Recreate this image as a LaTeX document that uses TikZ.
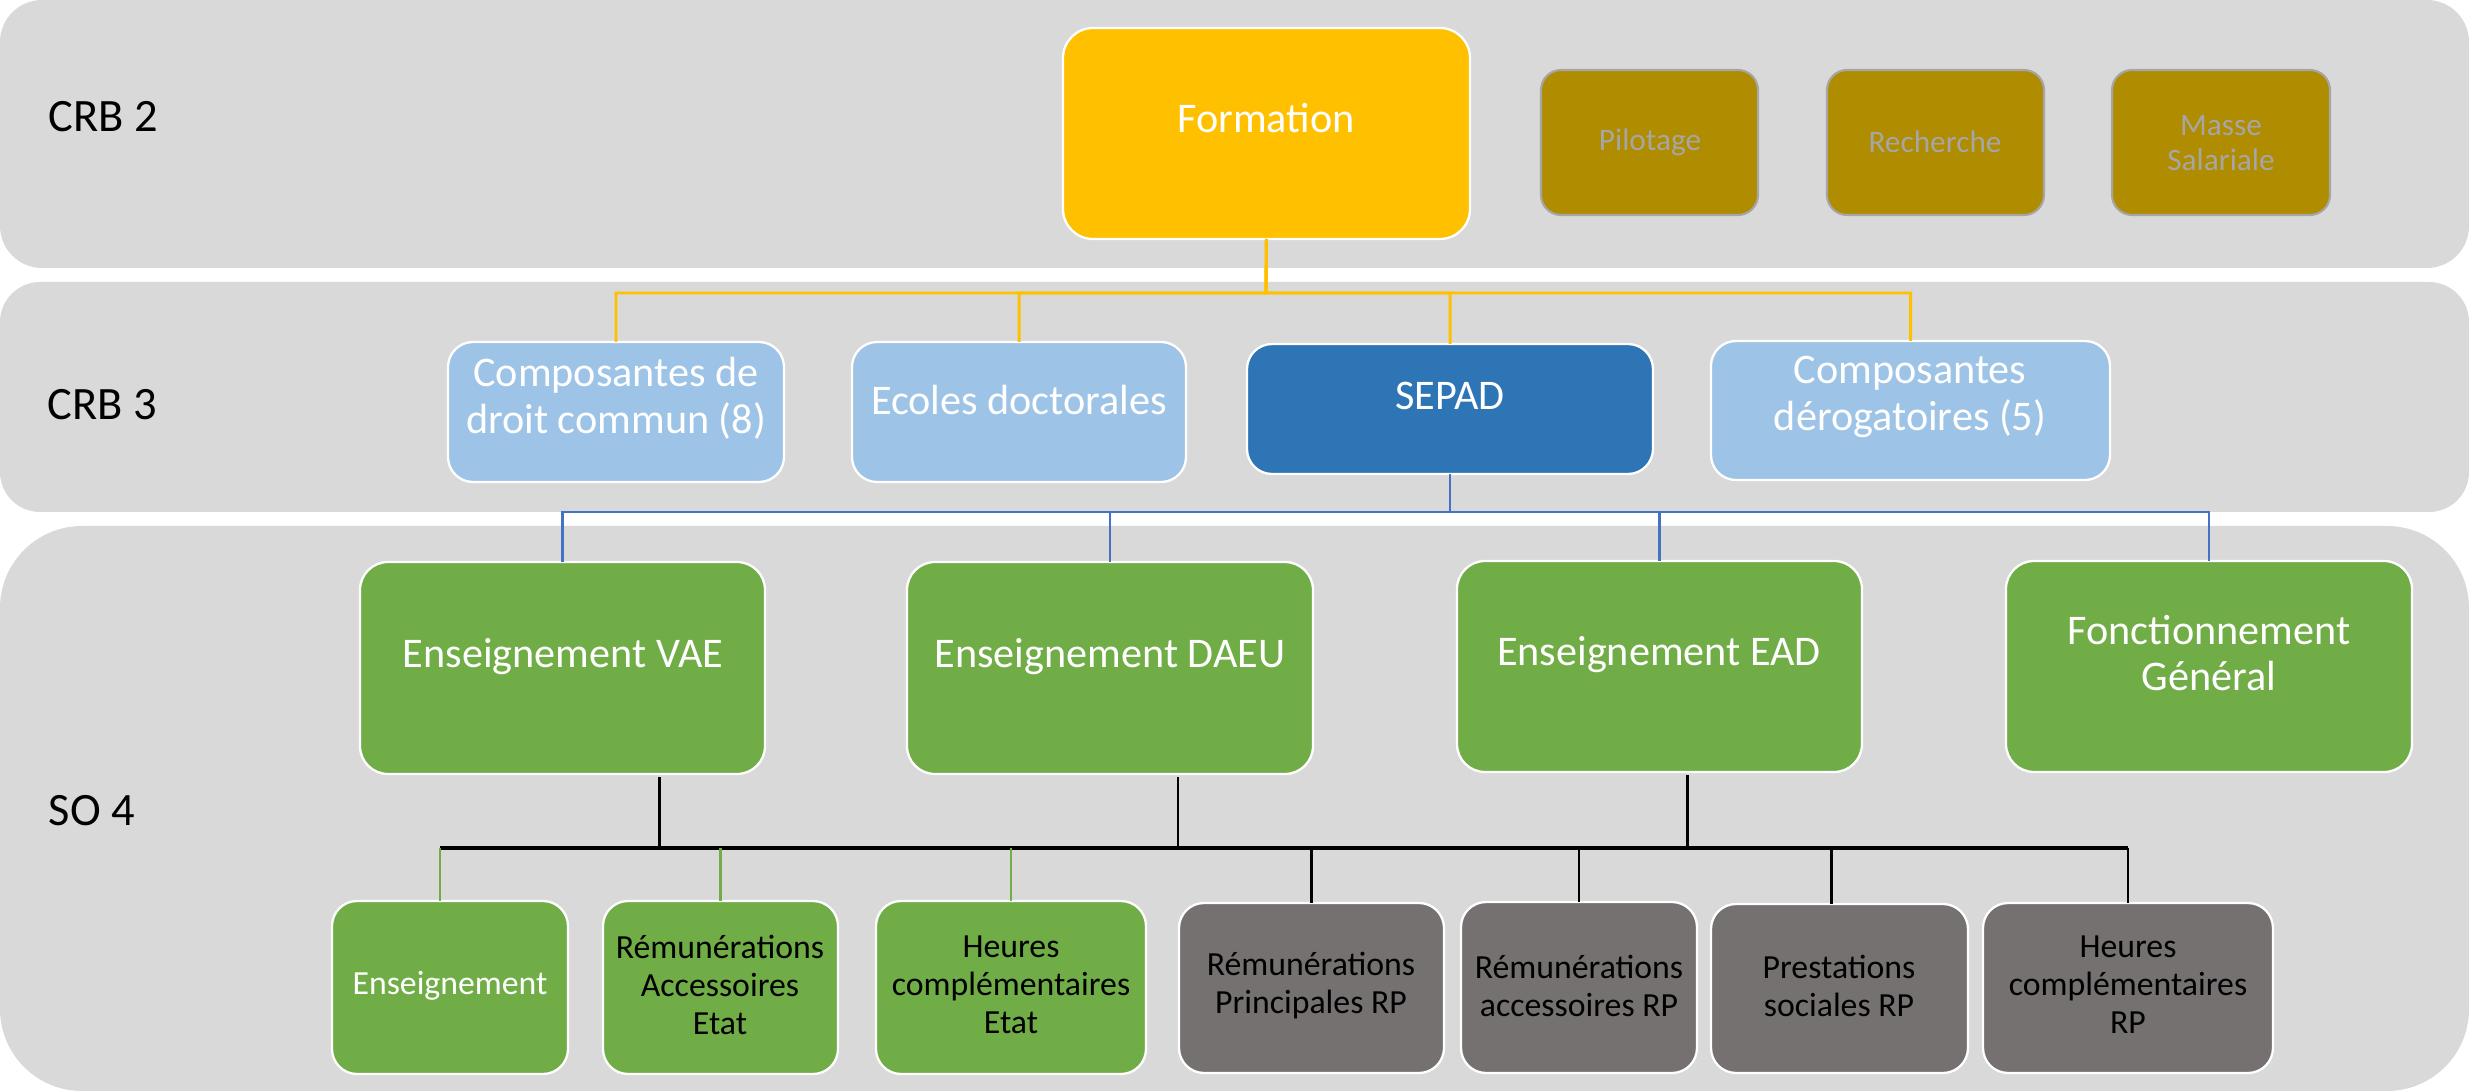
\documentclass[tikz,border=0pt]{standalone}
\usepackage{fontspec}
\setmainfont{Carlito}
\usetikzlibrary{calc}
\definecolor{bandgray}{HTML}{D9D9D9}
\definecolor{yellowc}{HTML}{FFC000}
\definecolor{goldc}{HTML}{B08C00}
\definecolor{goldedge}{HTML}{A6A6A6}
\definecolor{goldtext}{HTML}{A6A6A6}
\definecolor{lightblue}{HTML}{9DC3E6}
\definecolor{sepadblue}{HTML}{2E75B6}
\definecolor{greenc}{HTML}{70AD47}
\definecolor{grayc}{HTML}{767171}
\definecolor{blueline}{HTML}{4472C4}
\newcommand{\mybox}[6]{\node[#1, minimum width={(#4-#2)*0.01cm}, minimum height={(#5-#3)*0.01cm}] (#6) at ({(#2+#4)/2},{(#3+#5)/2}) {};}
\begin{document}
\begin{tikzpicture}[x=0.01cm,y=-0.01cm,
  band/.style={fill=bandgray},
  box/.style={draw=white, line width=0.65pt, inner sep=0pt, outer sep=0pt},
  formbox/.style={box, fill=yellowc, rounded corners=0.3cm},
  goldbox/.style={draw=goldedge, line width=0.6pt, inner sep=0pt, outer sep=0pt, fill=goldc, rounded corners=0.2cm},
  lbbox/.style={box, fill=lightblue, rounded corners=0.25cm},
  sepbox/.style={box, fill=sepadblue, rounded corners=0.25cm},
  gbox/.style={box, fill=greenc, rounded corners=0.28cm},
  sgbox/.style={box, fill=greenc, rounded corners=0.25cm},
  gybox/.style={box, fill=grayc, rounded corners=0.25cm},
  tbig/.style={text=white, align=center, font=\fontsize{12}{13.3}\selectfont, inner sep=0pt},
  tsmall/.style={text=black, align=center, font=\fontsize{9.6}{10.8}\selectfont, inner sep=0pt},
  tgold/.style={text=goldtext, align=center, font=\fontsize{8.9}{9.8}\selectfont, inner sep=0pt},
  lab/.style={text=black, font=\fontsize{13.2}{15}\selectfont, inner sep=0pt},
  yl/.style={draw=yellowc, line width=0.85pt},
  blbus/.style={draw=blueline, line width=0.7pt},
  kbus/.style={draw=black, line width=1.1pt},
  kd/.style={draw=black, line width=0.7pt},
  gd/.style={draw=greenc, line width=0.6pt}
]
\useasboundingbox (0,0) rectangle (2471,1091);
% bands
\fill[band, rounded corners=0.42cm] (0,0) rectangle (2469,268);
\fill[band, rounded corners=0.4cm] (0,282) rectangle (2469,512);
\fill[band, rounded corners=0.82cm] (0,526) rectangle (2469,1091);
% band labels
\node[lab] (crb2) at (103,117) {CRB 2};
\node[lab] (crb3) at (102,405) {CRB 3};
\node[lab] (so4) at (92,811) {SO 4};
% CRB 2 row
\mybox{formbox}{1063}{28}{1470}{239}{form}
\node[tbig] (formT) at (1266,118) {Formation};
\mybox{goldbox}{1541}{70}{1758}{215}{pil}
\node[tgold] (pilT) at (1650,142) {Pilotage};
\mybox{goldbox}{1827}{70}{2044}{215}{rec}
\node[tgold] (recT) at (1935,142) {Recherche};
\mybox{goldbox}{2112}{70}{2330}{215}{mas}
\node[tgold] (masT) at (2221,143) {Masse\\Salariale};
% CRB 3 row
\mybox{lbbox}{448}{342}{784}{482}{cdc}
\node[tbig] (cdcT) at (616,398) {Composantes de\\droit commun (8)};
\mybox{lbbox}{852}{342}{1186}{482}{eco}
\node[tbig] (ecoT) at (1019,400) {Ecoles doctorales};
\mybox{sepbox}{1247}{344}{1653}{474}{sep}
\node[tbig] (sepT) at (1450,396) {SEPAD};
\mybox{lbbox}{1711}{341}{2110}{480}{der}
\node[tbig] (derT) at (1910,397) {Composantes\\dérogatoires (5)};
% SO 4 upper row
\mybox{gbox}{360}{562}{765}{774}{vae}
\node[tbig] (vaeT) at (563,657) {Enseignement VAE};
\mybox{gbox}{907}{562}{1313}{774}{dae}
\node[tbig] (daeT) at (1110,657) {Enseignement DAEU};
\mybox{gbox}{1457}{561}{1862}{772}{ead}
\node[tbig] (eadT) at (1659,655) {Enseignement EAD};
\mybox{gbox}{2006}{561}{2412}{772}{fon}
\node[tbig] (fonT) at (2209,653) {Fonctionnement\\Général};
% SO 4 lower row
\mybox{sgbox}{332}{901}{568}{1074}{ens}
\node[tsmall, text=white] (ensT) at (450,986) {Enseignement};
\mybox{sgbox}{603}{901}{838}{1074}{rae}
\node[tsmall] (raeT) at (720,985) {Rémunérations\\Accessoires\\Etat};
\mybox{sgbox}{876}{901}{1146}{1074}{hce}
\node[tsmall] (hceT) at (1011,985) {Heures\\complémentaires\\Etat};
\mybox{gybox}{1179}{903}{1444}{1073}{rpr}
\node[tsmall] (rprT) at (1311,986) {Rémunérations\\Principales RP};
\mybox{gybox}{1461}{902}{1697}{1073}{rar}
\node[tsmall] (rarT) at (1579,986) {Rémunérations\\accessoires RP};
\mybox{gybox}{1711}{904}{1968}{1073}{psr}
\node[tsmall] (psrT) at (1839,986) {Prestations\\sociales RP};
\mybox{gybox}{1983}{903}{2273}{1073}{hcr}
\node[tsmall] (hcrT) at (2128,985) {Heures\\complémentaires\\RP};
% yellow connectors
\coordinate (ybus) at (1266,293);
\draw[yl] (form.south) -- (ybus) -| (cdc.north);
\draw[yl] (form.south) -- (ybus) -| (eco.north);
\draw[yl] (form.south) -- (ybus) -| (sep.north);
\draw[yl] (form.south) -- (ybus) -| (der.north);
% blue connectors
\coordinate (bbus) at (1450,512);
\draw[blbus] (sep.south) -- (bbus) -| (vae.north);
\draw[blbus] (sep.south) -- (bbus) -| (dae.north);
\draw[blbus] (sep.south) -- (bbus) -| (ead.north);
\draw[blbus] (sep.south) -- (bbus) -| (fon.north);
% black bus
\coordinate (kbL) at (440,848);
\coordinate (kbR) at (2128,848);
\coordinate (vaeo) at ($(vae.south)+(97,3)$);
\coordinate (daeo) at ($(dae.south)+(68,3)$);
\coordinate (eado) at ($(ead.south)+(28,3)$);
\draw[kd] (vaeo) -- (vaeo |- kbL);
\draw[kd] (daeo) -- (daeo |- kbL);
\draw[kd] (eado) -- (eado |- kbL);
\draw[kbus] (kbL) -- (kbR);
\draw[gd] (kbL) -- (kbL |- ens.north);
\draw[gd] (rae.north |- kbL) -- (rae.north);
\draw[gd] (hce.north |- kbL) -- (hce.north);
\draw[kd] (rpr.north |- kbL) -- (rpr.north);
\draw[kd] (rar.north |- kbL) -- (rar.north);
\draw[kd] ($(psr.north |- kbL)+(-8,0)$) -- ($(psr.north)+(-8,0)$);
\draw[kd] (kbR) -- (hcr.north);
\end{tikzpicture}
\end{document}
